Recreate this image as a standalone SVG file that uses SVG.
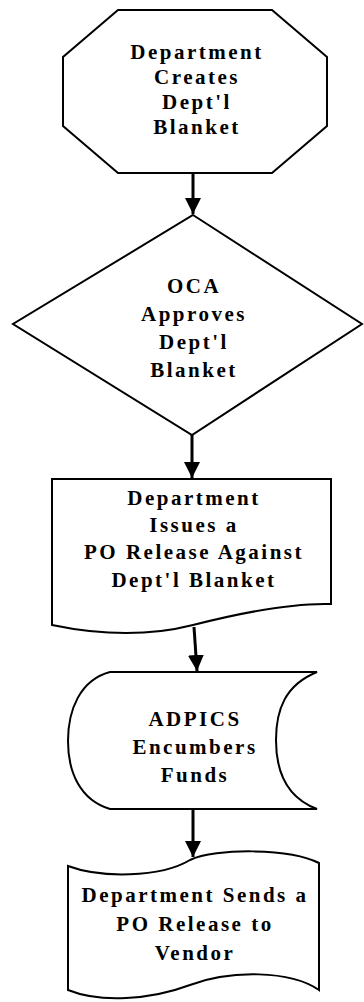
<svg xmlns="http://www.w3.org/2000/svg" width="364" height="1002" viewBox="0 0 364 1002">
<style>
.shape{fill:#fff;stroke:#000;stroke-width:2;stroke-linejoin:miter}
.lbl{font-family:"Liberation Serif","Times New Roman",serif;font-weight:bold;font-size:21px;letter-spacing:2.5px;text-anchor:middle;fill:#000}
.conn{stroke:#000;stroke-width:3;fill:none}
</style>
<defs>
<marker id="ah" viewBox="0 0 16 16" markerWidth="16" markerHeight="17" refX="16" refY="8" orient="auto" markerUnits="userSpaceOnUse">
<path d="M0,0 L16,8 L0,16 Z" fill="#000"/>
</marker>
</defs>
<rect width="364" height="1002" fill="#fff"/>
<g id="node1">
<polygon class="shape" points="118,10 272,10 327,57 327,126 272,173 118,173 63,126 63,57"/>
<text class="lbl" x="197" y="59">Department</text>
<text class="lbl" x="197" y="84">Creates</text>
<text class="lbl" x="197" y="109">Dept'l</text>
<text class="lbl" x="197" y="134">Blanket</text>
</g>
<g id="node2">
<polygon class="shape" points="193,215 362,324 192,435 13,324"/>
<text class="lbl" x="194" y="293">OCA</text>
<text class="lbl" x="194" y="321">Approves</text>
<text class="lbl" x="194" y="349">Dept'l</text>
<text class="lbl" x="194" y="377">Blanket</text>
</g>
<g id="node3">
<path class="shape" d="M52,479 H331 V604 C300,603 260,608 193,625 C150,636 100,635 52,625 Z"/>
<text class="lbl" x="194" y="505">Department</text>
<text class="lbl" x="194" y="532">Issues a</text>
<text class="lbl" x="194" y="559">PO Release Against</text>
<text class="lbl" x="194" y="587">Dept'l Blanket</text>
</g>
<g id="node4">
<path class="shape" d="M110,672 H317 C285,685 276,710 276,740 C276,770 285,797 317,809 H110 C80,800 68,772 68,741 C68,710 80,680 110,672 Z"/>
<text class="lbl" x="195" y="726">ADPICS</text>
<text class="lbl" x="195" y="754">Encumbers</text>
<text class="lbl" x="195" y="782">Funds</text>
</g>
<g id="node5">
<path class="shape" d="M68,866 C100,878 160,878 190,860 C215,848 290,848 319,863 V990 C290,970 230,970 190,985 C150,1000 100,1003 68,990 Z"/>
<text class="lbl" x="195" y="902">Department Sends a</text>
<text class="lbl" x="195" y="931">PO Release to</text>
<text class="lbl" x="195" y="960">Vendor</text>
</g>
<g id="connectors">
<line class="conn" x1="193" y1="173" x2="193" y2="214" marker-end="url(#ah)"/>
<line class="conn" x1="192" y1="435" x2="192" y2="478" marker-end="url(#ah)"/>
<line class="conn" x1="194" y1="627" x2="197" y2="671" marker-end="url(#ah)"/>
<line class="conn" x1="193" y1="810" x2="193" y2="857" marker-end="url(#ah)"/>
</g>
</svg>
